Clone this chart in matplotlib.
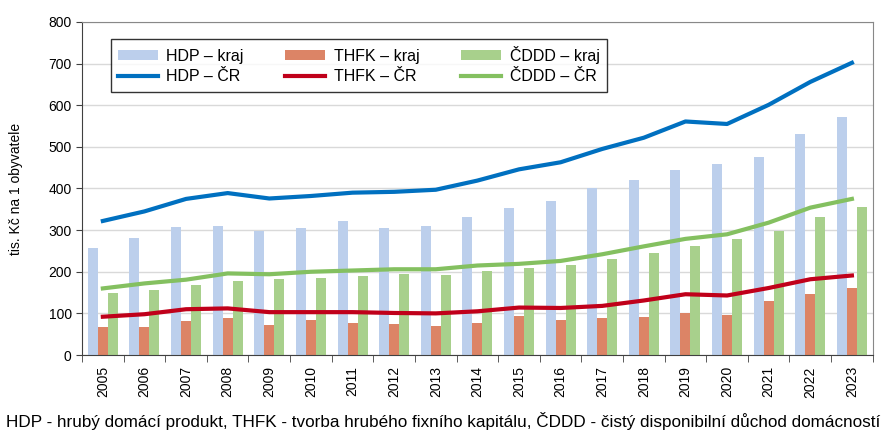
import numpy as np
import matplotlib.pyplot as plt
from matplotlib.ticker import FixedLocator

plt.rcParams['font.family'] = ['Liberation Sans', 'DejaVu Sans']

roky = [str(r) for r in range(2005, 2024)]

hdp_kraj = [257, 281, 307, 309, 299, 306, 321, 304, 311, 332,
            352, 369, 400, 420, 444, 458, 475, 531, 572]
thfk_kraj = [68, 68, 82, 88, 72, 84, 78, 74, 69, 78,
             94, 83, 90, 91, 100, 96, 130, 146, 161]
cddd_kraj = [150, 156, 167, 178, 182, 184, 190, 194, 193, 201,
             209, 217, 230, 246, 262, 278, 297, 332, 355]

hdp_cr = [322, 345, 375, 389, 376, 382, 390, 392, 397, 419,
          446, 463, 495, 522, 561, 555, 601, 656, 702]
thfk_cr = [92, 98, 110, 112, 103, 103, 103, 101, 100, 105,
           114, 113, 118, 131, 146, 143, 161, 182, 191]
cddd_cr = [160, 172, 181, 196, 194, 200, 203, 206, 206, 215,
           219, 226, 242, 261, 279, 290, 318, 354, 375]


def main() -> None:
    fig = plt.figure(figsize=(8.86, 4.37), dpi=100)
    ax = fig.add_axes([0.0926, 0.1876, 0.8924, 0.7621])

    x = np.arange(len(roky))
    w = 0.24
    ax.bar(x - w, hdp_kraj, w, color="#BCCFEC", label="HDP – kraj", zorder=2)
    ax.bar(x, thfk_kraj, w, color="#DC8466", label="THFK – kraj", zorder=2)
    ax.bar(x + w, cddd_kraj, w, color="#A8D08C", label="ČDDD – kraj", zorder=2)

    ax.plot(x, hdp_cr, color="#0070C0", lw=3, label="HDP – ČR", zorder=3)
    ax.plot(x, thfk_cr, color="#C0001A", lw=3, label="THFK – ČR", zorder=3)
    ax.plot(x, cddd_cr, color="#84C060", lw=3, label="ČDDD – ČR", zorder=3)

    ax.set_xlim(-0.5, len(roky) - 0.5)
    ax.set_ylim(0, 800)
    ax.set_yticks(range(0, 801, 100))
    ax.yaxis.grid(True, color="#D9D9D9", lw=1, zorder=0)
    ax.set_axisbelow(True)

    ax.set_xticks(x)
    ax.set_xticklabels(roky, rotation=90, fontsize=10)
    ax.xaxis.set_minor_locator(FixedLocator(np.arange(-0.5, len(roky), 1)))
    ax.tick_params(axis="x", which="major", length=0, pad=8)
    ax.tick_params(axis="x", which="minor", length=5, color="#404040")
    ax.tick_params(axis="y", length=4, labelsize=10, color="#404040")

    for s in ("left", "bottom"):
        ax.spines[s].set_color("#404040")
    for s in ("top", "right"):
        ax.spines[s].set_color("#888888")

    ax.set_ylabel("tis. Kč na 1 obyvatele", fontsize=10, labelpad=18)

    handles, labels = ax.get_legend_handles_labels()
    order = [3, 0, 4, 1, 5, 2]
    leg = ax.legend([handles[i] for i in order], [labels[i] for i in order],
                    ncol=3, loc="upper left", bbox_to_anchor=(0.036, 0.95),
                    borderaxespad=0, fontsize=11.5, frameon=True,
                    fancybox=False, handlelength=2.5, handleheight=0.6,
                    columnspacing=2.6, handletextpad=0.55,
                    borderpad=0.45, labelspacing=0.35)
    leg.get_frame().set_edgecolor("black")
    leg.get_frame().set_linewidth(1)

    fig.text(0.5, 0.015,
             "HDP - hrubý domácí produkt, THFK - tvorba hrubého fixního kapitálu, "
             "ČDDD - čistý disponibilní důchod domácností",
             ha="center", va="bottom", fontsize=12.3)

    fig.savefig("out.png", dpi=100)


if __name__ == "__main__":
    main()
